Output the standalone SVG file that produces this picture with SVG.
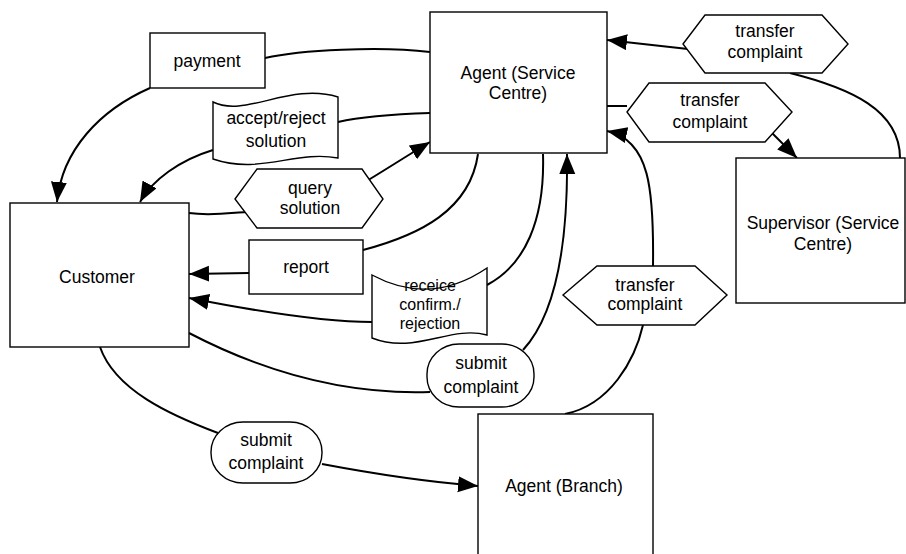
<svg xmlns="http://www.w3.org/2000/svg" width="906" height="554" viewBox="0 0 906 554">
<defs>
<marker id="ah" markerUnits="userSpaceOnUse" markerWidth="22" markerHeight="18" refX="20" refY="8" orient="auto">
<path d="M0,0 L20,8 L0,16 Z" fill="#000"/>
</marker>
<style>
.s{fill:#fff;stroke:#000;stroke-width:1.4}
.c{fill:none;stroke:#000;stroke-width:2}
.a{marker-end:url(#ah)}
text{font-family:"Liberation Sans",Arial,sans-serif;font-size:17.5px;fill:#000;text-anchor:middle}
.sm{font-size:16px}
</style>
</defs>
<rect width="906" height="554" fill="#fff"/>
<g id="connectors">
<path class="c" d="M430,52 C380,46 300,50 265,58"/>
<path class="c a" d="M150,88 C100,110 62,150 57,202"/>
<path class="c" d="M430,113 C400,114 360,117 338,122"/>
<path class="c a" d="M213,150 C180,160 152,180 140,202"/>
<path class="c" d="M189,213 C210,216 230,213 246,212"/>
<path class="c a" d="M365,182 C385,170 405,157 430,142"/>
<path class="c" d="M478,154 C470,210 420,235 363,250"/>
<path class="c a" d="M249,273 L189,274"/>
<path class="c" d="M543,154 C545,220 525,265 487,285"/>
<path class="c a" d="M372,322 C320,322 250,310 189,298"/>
<path class="c" d="M189,333 C260,370 340,395 430,392"/>
<path class="c a" d="M523,350 C560,310 568,230 567,154"/>
<path class="c" d="M100,347 C115,390 170,415 218,433"/>
<path class="c a" d="M322,464 C380,475 430,482 478,486"/>
<path class="c" d="M565,414 C610,405 635,360 643,325"/>
<path class="c a" d="M653,266 C654,190 650,140 607,131"/>
<path class="c" d="M607,106 L627,106"/>
<path class="c a" d="M770,131 L797,158"/>
<path class="c" d="M900,158 C900,110 850,88 790,73"/>
<path class="c a" d="M688,49 L607,40"/>
</g>
<g id="agent-service-centre">
<rect class="s" x="430" y="12" width="177" height="141"/>
<text x="518" y="79">Agent (Service</text>
<text x="518" y="99">Centre)</text>
</g>
<g id="supervisor">
<rect class="s" x="736" y="158" width="169" height="145"/>
<text x="823" y="229">Supervisor (Service</text>
<text x="823" y="250">Centre)</text>
</g>
<g id="customer">
<rect class="s" x="10" y="203" width="179" height="144"/>
<text x="97" y="283">Customer</text>
</g>
<g id="agent-branch">
<rect class="s" x="478" y="414" width="175" height="150"/>
<text x="564" y="492">Agent (Branch)</text>
</g>
<g id="payment">
<rect class="s" x="150" y="33" width="115" height="55"/>
<text x="207" y="67">payment</text>
</g>
<g id="report">
<rect class="s" x="249" y="240" width="114" height="54"/>
<text x="306" y="273">report</text>
</g>
<g id="accept-reject">
<path class="s" d="M213,102 C245,118 290,82 338,97 L338,158 C295,150 260,175 213,159 Z"/>
<text x="276" y="124">accept/reject</text>
<text x="276" y="147">solution</text>
</g>
<g id="query-solution">
<polygon class="s" points="235,199 257,169 362,169 383,199 362,228 257,228"/>
<text x="310" y="194">query</text>
<text x="310" y="214">solution</text>
</g>
<g id="transfer-top">
<polygon class="s" points="683,44 705,15 822,15 848,44 822,73 705,73"/>
<text x="765" y="37">transfer</text>
<text x="765" y="58">complaint</text>
</g>
<g id="transfer-mid">
<polygon class="s" points="627,112 649,83 765,83 792,112 765,142 649,142"/>
<text x="710" y="106">transfer</text>
<text x="710" y="128">complaint</text>
</g>
<g id="transfer-bottom">
<polygon class="s" points="563,295 597,266 695,266 727,295 695,325 597,325"/>
<text x="645" y="291">transfer</text>
<text x="645" y="310">complaint</text>
</g>
<g id="receice">
<path class="s" d="M372,275 C400,290 440,300 487,268 L487,335 C450,325 415,355 372,338 Z"/>
<text class="sm" x="430" y="291">receice</text>
<text class="sm" x="430" y="310">confirm./</text>
<text class="sm" x="430" y="329">rejection</text>
</g>
<g id="submit-mid">
<rect class="s" x="427" y="344" width="107" height="63" rx="32" ry="30"/>
<text x="481" y="369">submit</text>
<text x="481" y="393">complaint</text>
</g>
<g id="submit-low">
<rect class="s" x="211" y="422" width="111" height="61" rx="32" ry="30"/>
<text x="266" y="446">submit</text>
<text x="266" y="469">complaint</text>
</g>
</svg>
